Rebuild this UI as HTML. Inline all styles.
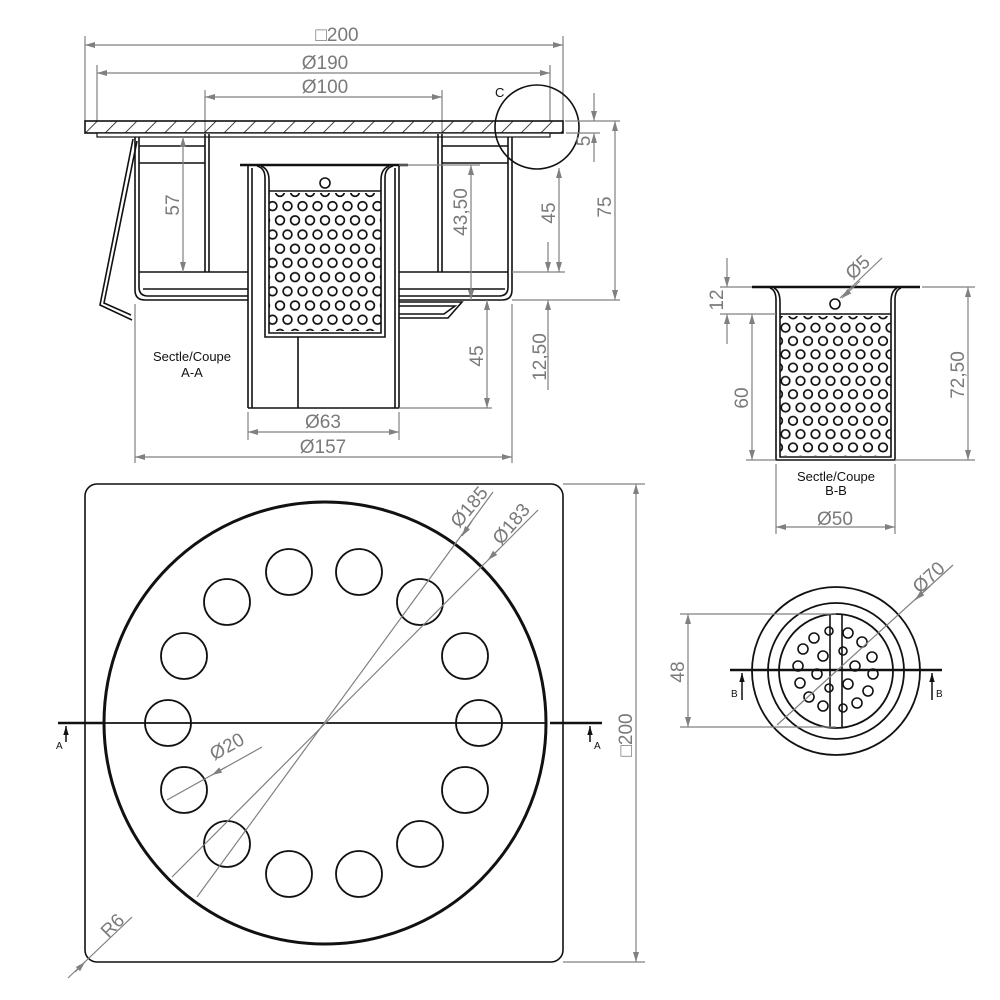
<!DOCTYPE html>
<html><head><meta charset="utf-8"><style>
html,body{margin:0;padding:0;background:#fff;}
svg{display:block;}
text{font-family:"Liberation Sans",sans-serif;}
.d{fill:#7a7a7a;font-size:19px;}
.g{stroke:#808080;stroke-width:1.2;fill:none;}
.k{stroke:#111;stroke-width:1.6;fill:none;}
.kt{stroke:#111;stroke-width:2.6;fill:none;}
.lab{fill:#111;font-size:13px;}
</style></head><body>
<svg width="1000" height="1000" viewBox="0 0 1000 1000" xmlns="http://www.w3.org/2000/svg">
<defs>
<marker id="a" viewBox="0 0 10 6" refX="10" refY="3" markerWidth="12" markerHeight="6" orient="auto-start-reverse" markerUnits="userSpaceOnUse"><path d="M0,0 L10,3 L0,6z" fill="#808080"/></marker>
<marker id="ab" viewBox="0 0 10 6" refX="10" refY="3" markerWidth="9" markerHeight="6" orient="auto" markerUnits="userSpaceOnUse"><path d="M0,0 L10,3 L0,6z" fill="#111"/></marker>
<pattern id="hatch" width="14" height="14" patternUnits="userSpaceOnUse" patternTransform="rotate(45)"><line x1="0" y1="0" x2="0" y2="14" stroke="#111" stroke-width="1.6"/></pattern>
<pattern id="perfA" x="265" y="199" width="15" height="28.4" patternUnits="userSpaceOnUse"><circle cx="7.5" cy="7.1" r="4.4" fill="none" stroke="#111" stroke-width="1.7"/><circle cx="0" cy="21.3" r="4.4" fill="none" stroke="#111" stroke-width="1.7"/><circle cx="15" cy="21.3" r="4.4" fill="none" stroke="#111" stroke-width="1.7"/></pattern>
<pattern id="perfB" x="778" y="321" width="15" height="26.6" patternUnits="userSpaceOnUse"><circle cx="7.5" cy="6.7" r="4.3" fill="none" stroke="#111" stroke-width="1.7"/><circle cx="0" cy="20" r="4.3" fill="none" stroke="#111" stroke-width="1.7"/><circle cx="15" cy="20" r="4.3" fill="none" stroke="#111" stroke-width="1.7"/></pattern>
</defs>

<!-- ===== TOP DIMENSIONS ===== -->
<g class="g">
<line x1="85" y1="36" x2="85" y2="121"/><line x1="563" y1="36" x2="563" y2="121"/>
<line x1="85" y1="45" x2="563" y2="45" marker-start="url(#a)" marker-end="url(#a)"/>
<line x1="97" y1="65" x2="97" y2="121"/><line x1="550" y1="65" x2="550" y2="121"/>
<line x1="97" y1="73" x2="550" y2="73" marker-start="url(#a)" marker-end="url(#a)"/>
<line x1="205" y1="90" x2="205" y2="134"/><line x1="442" y1="90" x2="442" y2="134"/>
<line x1="205" y1="97" x2="442" y2="97" marker-start="url(#a)" marker-end="url(#a)"/>
</g>
<text class="d" x="337" y="41" text-anchor="middle">□200</text>
<text class="d" x="325" y="69" text-anchor="middle">Ø190</text>
<text class="d" x="325" y="93" text-anchor="middle">Ø100</text>

<!-- ===== SECTION A-A ===== -->
<rect x="85" y="121" width="478" height="12" fill="url(#hatch)" stroke="#111" stroke-width="1.6"/>
<rect x="97" y="133" width="453" height="4" fill="#fff" stroke="#111" stroke-width="1.2"/>
<path class="k" d="M135,137 L135,290 Q135,300 145,300 L248,300"/>
<path class="k" d="M139,137 L139,287 Q139,296 148,296 L248,296"/>
<path class="k" d="M512,137 L512,290 Q512,300 502,300 L399,300"/>
<path class="k" d="M508,137 L508,287 Q508,296 499,296 L399,296"/>
<line class="k" x1="139" y1="272" x2="248" y2="272"/><line class="k" x1="399" y1="272" x2="508" y2="272"/>
<line class="k" x1="143" y1="289" x2="248" y2="289"/><line class="k" x1="399" y1="289" x2="505" y2="289"/>
<line class="k" x1="205" y1="134" x2="205" y2="272"/><line class="k" x1="209" y1="134" x2="209" y2="272"/>
<line class="k" x1="442" y1="134" x2="442" y2="272"/><line class="k" x1="438" y1="134" x2="438" y2="272"/>
<line class="k" x1="139" y1="146" x2="205" y2="146"/><line class="k" x1="139" y1="163" x2="205" y2="163"/>
<line class="k" x1="442" y1="146" x2="508" y2="146"/><line class="k" x1="442" y1="163" x2="508" y2="163"/>
<path class="k" d="M133,139 L100,305 L132,320"/>
<path class="k" d="M137,141 L104,303 L131,315"/>
<line class="k" x1="248" y1="165" x2="248" y2="408"/><line class="k" x1="252" y1="168" x2="252" y2="408"/>
<line class="k" x1="399" y1="165" x2="399" y2="408"/><line class="k" x1="395" y1="168" x2="395" y2="408"/>
<line class="k" x1="248" y1="408" x2="399" y2="408"/>
<line class="k" x1="298" y1="337" x2="298" y2="408"/>
<line class="kt" x1="240" y1="165" x2="408" y2="165"/>
<path class="k" d="M257,166 Q265,168 265,178 L265,337 L385,337 L385,178 Q385,168 393,166"/>
<path class="k" d="M261,166 Q269,169 269,180 L269,333 L381,333 L381,180 Q381,169 389,166"/>
<line class="k" x1="269" y1="191" x2="381" y2="191"/>
<circle cx="325" cy="183" r="5" class="k" stroke-width="2"/>
<rect x="269" y="193" width="112" height="138" fill="url(#perfA)"/>
<path class="k" d="M399,302 L462,302 L448,318 L399,318"/>
<path class="k" d="M399,306 L455,306 L444,314 L399,314"/>
<circle cx="537" cy="127" r="42" fill="none" stroke="#111" stroke-width="1.6"/>
<text x="495" y="97" class="lab" font-size="12">C</text>
<g class="g">
<line x1="183" y1="137" x2="183" y2="272" marker-start="url(#a)" marker-end="url(#a)"/>
<line x1="399" y1="165" x2="480" y2="165"/>
<line x1="471" y1="165" x2="471" y2="300" marker-start="url(#a)" marker-end="url(#a)"/>
<line x1="512" y1="272" x2="565" y2="272"/>
<line x1="559" y1="168" x2="559" y2="272" marker-start="url(#a)" marker-end="url(#a)"/>
<line x1="548" y1="242" x2="548" y2="272" marker-end="url(#a)"/>
<line x1="548" y1="390" x2="548" y2="300" marker-end="url(#a)"/>
<line x1="512" y1="300" x2="620" y2="300"/>
<line x1="565" y1="121" x2="620" y2="121"/>
<line x1="566" y1="133" x2="600" y2="133"/>
<line x1="615" y1="121" x2="615" y2="300" marker-start="url(#a)" marker-end="url(#a)"/>
<line x1="594" y1="93" x2="594" y2="121" marker-end="url(#a)"/>
<line x1="594" y1="162" x2="594" y2="133" marker-end="url(#a)"/>
<line x1="399" y1="408" x2="492" y2="408"/>
<line x1="487" y1="300" x2="487" y2="408" marker-start="url(#a)" marker-end="url(#a)"/>
<line x1="248" y1="412" x2="248" y2="440"/><line x1="399" y1="412" x2="399" y2="440"/>
<line x1="248" y1="432" x2="399" y2="432" marker-start="url(#a)" marker-end="url(#a)"/>
<line x1="135" y1="304" x2="135" y2="463"/><line x1="512" y1="304" x2="512" y2="463"/>
<line x1="135" y1="457" x2="512" y2="457" marker-start="url(#a)" marker-end="url(#a)"/>
</g>
<text class="d" transform="translate(179,205) rotate(-90)" text-anchor="middle">57</text>
<text class="d" transform="translate(467,212) rotate(-90)" text-anchor="middle">43,50</text>
<text class="d" transform="translate(555,213) rotate(-90)" text-anchor="middle">45</text>
<text class="d" transform="translate(611,207) rotate(-90)" text-anchor="middle">75</text>
<text class="d" transform="translate(590,141) rotate(-90)" text-anchor="middle">5</text>
<text class="d" transform="translate(483,356) rotate(-90)" text-anchor="middle">45</text>
<text class="d" transform="translate(546,357) rotate(-90)" text-anchor="middle">12,50</text>
<text class="d" x="323" y="428" text-anchor="middle">Ø63</text>
<text class="d" x="323" y="453" text-anchor="middle">Ø157</text>
<text class="lab" x="192" y="361" text-anchor="middle">Sectle/Coupe</text>
<text class="lab" x="192" y="377" text-anchor="middle">A-A</text>

<!-- ===== SECTION B-B ===== -->
<line class="kt" x1="752" y1="287" x2="920" y2="287"/>
<path class="k" d="M770,288 Q776,290 776,300 L776,460 L895,460 L895,300 Q895,290 901,288"/>
<path class="k" d="M774,288 Q780,291 780,302 L780,457 L891,457 L891,302 Q891,291 897,288"/>
<line class="k" x1="780" y1="314" x2="891" y2="314"/>
<circle cx="835" cy="304" r="5" class="k" stroke-width="2"/>
<rect x="780" y="316" width="111" height="140" fill="url(#perfB)"/>
<g class="g">
<line x1="842" y1="298" x2="860" y2="281" marker-start="url(#a)"/>
<line x1="720" y1="287" x2="752" y2="287"/>
<line x1="720" y1="314" x2="776" y2="314"/>
<line x1="727" y1="258" x2="727" y2="287" marker-end="url(#a)"/>
<line x1="727" y1="344" x2="727" y2="314" marker-end="url(#a)"/>
<line x1="746" y1="460" x2="776" y2="460"/>
<line x1="752" y1="314" x2="752" y2="460" marker-start="url(#a)" marker-end="url(#a)"/>
<line x1="922" y1="287" x2="975" y2="287"/><line x1="895" y1="460" x2="975" y2="460"/>
<line x1="968" y1="287" x2="968" y2="460" marker-start="url(#a)" marker-end="url(#a)"/>
<line x1="776" y1="464" x2="776" y2="534"/><line x1="895" y1="464" x2="895" y2="534"/>
<line x1="776" y1="527" x2="895" y2="527" marker-start="url(#a)" marker-end="url(#a)"/>
</g>
<line x1="840" y1="298" x2="882" y2="258" stroke="#808080" stroke-width="1.2"/>
<text class="d" transform="translate(862,272) rotate(-43)" text-anchor="middle">Ø5</text>
<text class="d" transform="translate(723,300) rotate(-90)" text-anchor="middle">12</text>
<text class="d" transform="translate(748,398) rotate(-90)" text-anchor="middle">60</text>
<text class="d" transform="translate(964,375) rotate(-90)" text-anchor="middle">72,50</text>
<text class="d" x="835" y="525" text-anchor="middle">Ø50</text>
<text class="lab" x="836" y="481" text-anchor="middle">Sectle/Coupe</text>
<text class="lab" x="836" y="495" text-anchor="middle">B-B</text>

<!-- ===== PLAN VIEW ===== -->
<rect x="85" y="484" width="478" height="478" rx="12" fill="none" stroke="#111" stroke-width="1.6"/>
<circle cx="325" cy="723" r="221" fill="none" stroke="#111" stroke-width="3"/>
<g fill="none" stroke="#111" stroke-width="1.8">
<circle cx="289" cy="572" r="23"/><circle cx="359" cy="572" r="23"/>
<circle cx="420" cy="602" r="23"/><circle cx="465" cy="656" r="23"/>
<circle cx="479" cy="723" r="23"/><circle cx="465" cy="790" r="23"/>
<circle cx="420" cy="844" r="23"/><circle cx="359" cy="874" r="23"/>
<circle cx="289" cy="874" r="23"/><circle cx="227" cy="844" r="23"/>
<circle cx="184" cy="790" r="23"/><circle cx="168" cy="723" r="23"/>
<circle cx="184" cy="656" r="23"/><circle cx="227" cy="602" r="23"/>
</g>
<line x1="58" y1="723" x2="104" y2="723" stroke="#111" stroke-width="2.4"/>
<line x1="104" y1="723" x2="546" y2="723" stroke="#111" stroke-width="1.8"/>
<line x1="550" y1="723" x2="602" y2="723" stroke="#111" stroke-width="2.4"/>
<line x1="66" y1="742" x2="66" y2="726" stroke="#111" stroke-width="1.5" marker-end="url(#ab)"/>
<line x1="590" y1="742" x2="590" y2="726" stroke="#111" stroke-width="1.5" marker-end="url(#ab)"/>
<text x="56" y="749" font-size="10" fill="#111">A</text>
<text x="594" y="749" font-size="10" fill="#111">A</text>
<g class="g">
<line x1="197" y1="897" x2="493" y2="492"/>
<line x1="472" y1="521" x2="462" y2="536" marker-end="url(#a)"/>
<line x1="172" y1="877" x2="538" y2="510"/>
<line x1="500" y1="548" x2="488" y2="560" marker-end="url(#a)"/>
<line x1="167" y1="800" x2="262" y2="747"/>
<line x1="226" y1="767" x2="212" y2="775" marker-end="url(#a)"/>
<line x1="68" y1="978" x2="132" y2="917"/>
<line x1="75" y1="972" x2="85" y2="962" marker-end="url(#a)"/>
<line x1="563" y1="484" x2="645" y2="484"/><line x1="563" y1="962" x2="645" y2="962"/>
<line x1="636" y1="484" x2="636" y2="962" marker-start="url(#a)" marker-end="url(#a)"/>
</g>
<text class="d" transform="translate(474,511) rotate(-50)" text-anchor="middle">Ø185</text>
<text class="d" transform="translate(516,528) rotate(-50)" text-anchor="middle">Ø183</text>
<text class="d" transform="translate(230,752) rotate(-29)" text-anchor="middle">Ø20</text>
<text class="d" transform="translate(117,930) rotate(-45)" text-anchor="middle">R6</text>
<text class="d" transform="translate(632,735) rotate(-90)" text-anchor="middle">□200</text>

<!-- ===== SMALL PLAN B ===== -->
<circle cx="836" cy="671" r="84" fill="none" stroke="#111" stroke-width="1.8"/>
<circle cx="836" cy="671" r="68" fill="none" stroke="#111" stroke-width="1.8"/>
<circle cx="836" cy="671" r="57" fill="none" stroke="#111" stroke-width="1.8"/>
<line class="k" x1="830" y1="614" x2="830" y2="727"/><line class="k" x1="842" y1="614" x2="842" y2="727"/>
<g fill="none" stroke="#111" stroke-width="1.6">
<circle cx="814" cy="638" r="5"/><circle cx="803" cy="649" r="5"/><circle cx="823" cy="656" r="5"/>
<circle cx="798" cy="666" r="5"/><circle cx="817" cy="674" r="5"/><circle cx="800" cy="683" r="5"/>
<circle cx="809" cy="697" r="5"/><circle cx="823" cy="706" r="5"/>
<circle cx="848" cy="633" r="5"/><circle cx="862" cy="642" r="5"/><circle cx="872" cy="657" r="5"/>
<circle cx="855" cy="666" r="5"/><circle cx="873" cy="674" r="5"/><circle cx="848" cy="684" r="5"/>
<circle cx="868" cy="691" r="5"/><circle cx="857" cy="703" r="5"/>
<circle cx="829" cy="631" r="4"/><circle cx="829" cy="688" r="4"/><circle cx="843" cy="651" r="4"/><circle cx="843" cy="708" r="4"/>
</g>
<line x1="730" y1="670" x2="942" y2="670" stroke="#111" stroke-width="2.4"/>
<line x1="742" y1="700" x2="742" y2="673" stroke="#111" stroke-width="1.5" marker-end="url(#ab)"/>
<line x1="932" y1="700" x2="932" y2="673" stroke="#111" stroke-width="1.5" marker-end="url(#ab)"/>
<text x="731" y="697" font-size="10" fill="#111">B</text>
<text x="936" y="697" font-size="10" fill="#111">B</text>
<g class="g">
<line x1="777" y1="725" x2="953" y2="565"/>
<line x1="930" y1="586" x2="915" y2="600" marker-end="url(#a)"/>
<line x1="680" y1="614" x2="836" y2="614"/><line x1="680" y1="727" x2="836" y2="727"/>
<line x1="688" y1="614" x2="688" y2="727" marker-start="url(#a)" marker-end="url(#a)"/>
</g>
<text class="d" transform="translate(933,582) rotate(-43)" text-anchor="middle">Ø70</text>
<text class="d" transform="translate(684,672) rotate(-90)" text-anchor="middle">48</text>
</svg>
</body></html>
